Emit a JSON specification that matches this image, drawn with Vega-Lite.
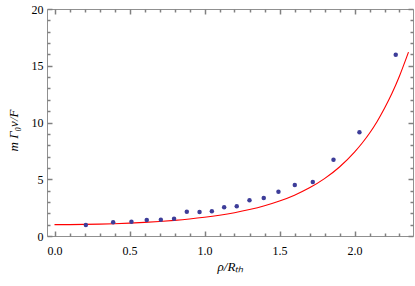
{
  "$schema": "https://vega.github.io/schema/vega-lite/v6.json",
  "width": 366,
  "height": 227,
  "autosize": {"type": "none"},
  "padding": {"left": 47, "top": 9, "right": 2, "bottom": 50},
  "background": "white",
  "config": {
    "view": {"stroke": "#909090", "strokeWidth": 1},
    "font": "Liberation Serif",
    "axis": {
      "domain": false,
      "grid": false,
      "labelFont": "Liberation Serif",
      "labelFontSize": 12,
      "labelColor": "black",
      "titleFont": "Liberation Serif",
      "titleFontSize": 13,
      "titleFontWeight": "normal",
      "titleFontStyle": "italic",
      "titleColor": "black"
    }
  },
  "datasets": {
    "points": [
      {"rho": 0.209, "v": 0.97},
      {"rho": 0.391, "v": 1.21},
      {"rho": 0.513, "v": 1.26},
      {"rho": 0.615, "v": 1.41},
      {"rho": 0.709, "v": 1.44},
      {"rho": 0.797, "v": 1.52},
      {"rho": 0.882, "v": 2.14},
      {"rho": 0.967, "v": 2.11},
      {"rho": 1.049, "v": 2.18},
      {"rho": 1.131, "v": 2.53},
      {"rho": 1.215, "v": 2.62},
      {"rho": 1.300, "v": 3.15},
      {"rho": 1.395, "v": 3.35},
      {"rho": 1.493, "v": 3.90},
      {"rho": 1.602, "v": 4.49},
      {"rho": 1.722, "v": 4.76},
      {"rho": 1.860, "v": 6.72},
      {"rho": 2.033, "v": 9.14},
      {"rho": 2.275, "v": 15.97}
    ],
    "curve": [
      {"rho": 0.0, "v": 1.0},
      {"rho": 0.1, "v": 1.005},
      {"rho": 0.2, "v": 1.02},
      {"rho": 0.3, "v": 1.046},
      {"rho": 0.4, "v": 1.083},
      {"rho": 0.5, "v": 1.133},
      {"rho": 0.6, "v": 1.197},
      {"rho": 0.7, "v": 1.278},
      {"rho": 0.8, "v": 1.377},
      {"rho": 0.9, "v": 1.499},
      {"rho": 1.0, "v": 1.649},
      {"rho": 1.1, "v": 1.831},
      {"rho": 1.2, "v": 2.054},
      {"rho": 1.3, "v": 2.328},
      {"rho": 1.4, "v": 2.664},
      {"rho": 1.5, "v": 3.08},
      {"rho": 1.6, "v": 3.597},
      {"rho": 1.7, "v": 4.242},
      {"rho": 1.8, "v": 5.053},
      {"rho": 1.9, "v": 6.081},
      {"rho": 2.0, "v": 7.389},
      {"rho": 2.05, "v": 8.17},
      {"rho": 2.1, "v": 9.05},
      {"rho": 2.15, "v": 10.07},
      {"rho": 2.2, "v": 11.25},
      {"rho": 2.25, "v": 12.57},
      {"rho": 2.3, "v": 14.1},
      {"rho": 2.36, "v": 16.2}
    ]
  },
  "layer": [
    {
      "data": {"name": "curve"},
      "mark": {"type": "line", "color": "#ff0000", "strokeWidth": 1.1, "interpolate": "monotone"},
      "encoding": {
        "x": {
          "field": "rho", "type": "quantitative",
          "scale": {"domain": [-0.05, 2.39], "nice": false, "zero": false},
          "axis": {
            "orient": "top", "labels": false, "title": null,
            "values": [0,0.1,0.2,0.3,0.4,0.5,0.6,0.7,0.8,0.9,1,1.1,1.2,1.3,1.4,1.5,1.6,1.7,1.8,1.9,2,2.1,2.2,2.3],
            "ticks": true, "tickColor": "#808080", "tickWidth": 1.5,
            "tickSize": {"condition": {"test": "abs(datum.value*2 - round(datum.value*2)) < 1e-6", "value": -5}, "value": -3}
          }
        },
        "y": {
          "field": "v", "type": "quantitative",
          "scale": {"domain": [0, 20], "nice": false},
          "axis": {
            "orient": "right", "labels": false, "title": null,
            "values": [0,1,2,3,4,5,6,7,8,9,10,11,12,13,14,15,16,17,18,19,20],
            "ticks": true, "tickColor": "#808080", "tickWidth": 1.5,
            "tickSize": {"condition": {"test": "datum.value % 5 === 0", "value": -5}, "value": -3}
          }
        }
      }
    },
    {
      "data": {"name": "points"},
      "mark": {"type": "point", "filled": true, "color": "#3d3d99", "size": 20, "opacity": 1},
      "encoding": {
        "x": {
          "field": "rho", "type": "quantitative",
          "scale": {"domain": [-0.05, 2.39], "nice": false, "zero": false},
          "axis": {
            "orient": "bottom",
            "title": "ρ/Rₜₕ",
            "values": [0,0.1,0.2,0.3,0.4,0.5,0.6,0.7,0.8,0.9,1,1.1,1.2,1.3,1.4,1.5,1.6,1.7,1.8,1.9,2,2.1,2.2,2.3],
            "labelExpr": "abs(datum.value*2 - round(datum.value*2)) < 1e-6 ? format(datum.value, '.1f') : ''",
            "ticks": true, "tickColor": "#808080", "tickWidth": 1.5,
            "tickSize": {"condition": {"test": "abs(datum.value*2 - round(datum.value*2)) < 1e-6", "value": -5}, "value": -3},
            "labelPadding": 14,
            "labelFlush": false,
            "labelOverlap": false,
            "titleX": 183,
            "titleY": 34,
            "titleBaseline": "alphabetic",
            "titleAnchor": "middle"
          }
        },
        "y": {
          "field": "v", "type": "quantitative",
          "scale": {"domain": [0, 20], "nice": false},
          "axis": {
            "orient": "left",
            "title": "m Γ₀v/F",
            "values": [0,1,2,3,4,5,6,7,8,9,10,11,12,13,14,15,16,17,18,19,20],
            "labelExpr": "datum.value % 5 === 0 ? format(datum.value, 'd') : ''",
            "ticks": true, "tickColor": "#808080", "tickWidth": 1.5,
            "tickSize": {"condition": {"test": "datum.value % 5 === 0", "value": -5}, "value": -3},
            "labelPadding": 9,
            "labelFlush": false,
            "labelOverlap": false,
            "titleX": -34,
            "titleY": 121,
            "titleBaseline": "middle",
            "titleAnchor": "middle"
          }
        }
      }
    }
  ],
  "resolve": {"scale": {"x": "independent", "y": "independent"}}
}
